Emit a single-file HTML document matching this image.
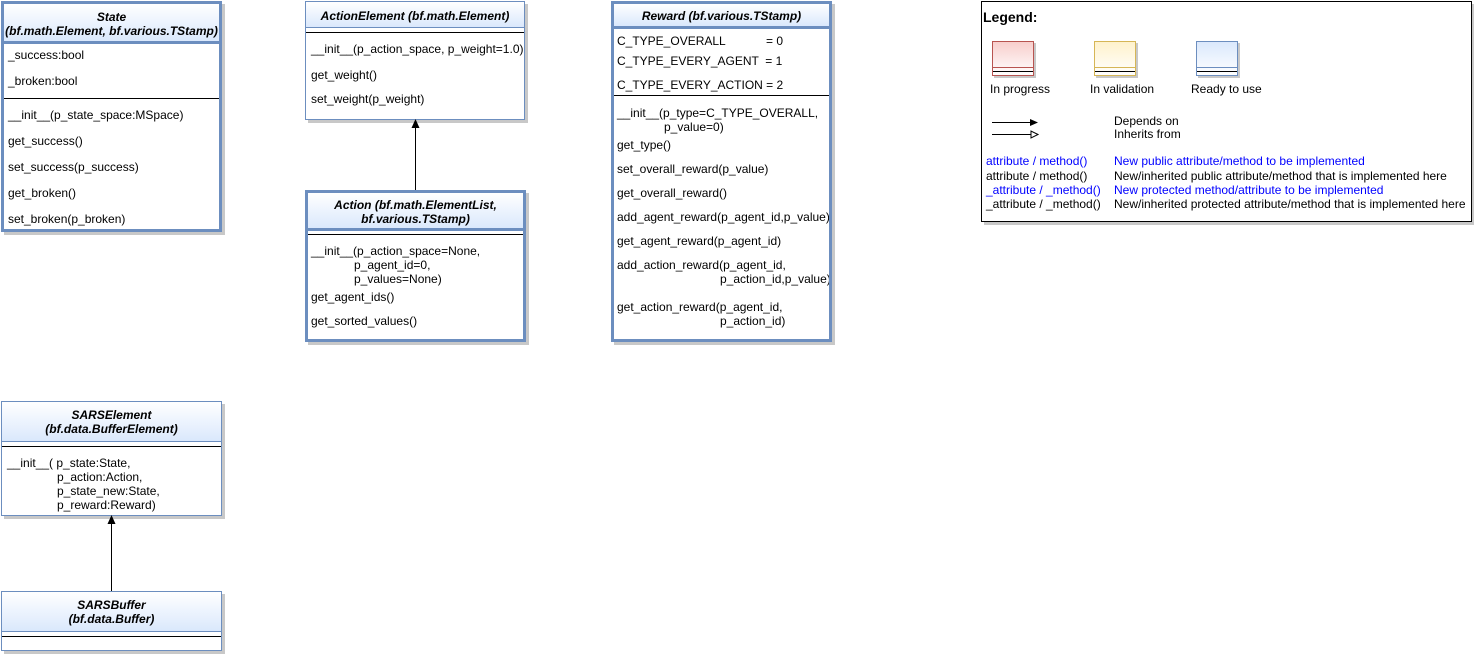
<!DOCTYPE html>
<html><head><meta charset="utf-8"><style>
*{margin:0;padding:0;box-sizing:border-box}
body{width:1474px;height:654px;background:#fff;position:relative;overflow:hidden;font-family:"Liberation Sans",sans-serif;font-size:12px;color:#000}
.b{position:absolute;background:#fff;overflow:hidden;box-shadow:3px 3px 0 #c8c8c8}
.thin{border:1px solid #6c8ebf}
.thick{border:3px solid #6c8ebf}
.h{position:absolute;left:0;right:0;top:0;background:linear-gradient(#fff,#dae8fc);border-bottom:1px solid #6c8ebf}
.thick .h{border-bottom:3px solid #6c8ebf}
.ln{position:absolute;left:0;right:0;height:1px;background:#000}
.t{position:absolute;white-space:pre;line-height:14px}
.c{left:0;right:0;text-align:center;font-weight:bold;font-style:italic}
.bl{color:#0000ff}
</style></head><body>

<!-- State -->
<div class="b thick" style="left:1px;top:1px;width:221px;height:231px">
<div class="h" style="height:40px"></div>
<div class="t c" style="top:6px">State</div>
<div class="t c" style="top:20px">(bf.math.Element, bf.various.TStamp)</div>
<div class="t" style="left:4px;top:44px">_success:bool</div>
<div class="t" style="left:4px;top:70px">_broken:bool</div>
<div class="ln" style="top:94px"></div>
<div class="t" style="left:4px;top:104px">__init__(p_state_space:MSpace)</div>
<div class="t" style="left:4px;top:130px">get_success()</div>
<div class="t" style="left:4px;top:156px">set_success(p_success)</div>
<div class="t" style="left:4px;top:182px">get_broken()</div>
<div class="t" style="left:4px;top:208px">set_broken(p_broken)</div>
</div>

<!-- ActionElement -->
<div class="b thin" style="left:305px;top:1px;width:220px;height:119px">
<div class="h" style="height:26px"></div>
<div class="t c" style="top:7px">ActionElement (bf.math.Element)</div>
<div class="ln" style="top:30px"></div>
<div class="t" style="left:5px;top:40px">__init__(p_action_space, p_weight=1.0)</div>
<div class="t" style="left:5px;top:66px">get_weight()</div>
<div class="t" style="left:5px;top:90px">set_weight(p_weight)</div>
</div>

<!-- Action -->
<div class="b thick" style="left:305px;top:190px;width:221px;height:152px">
<div class="h" style="height:38px"></div>
<div class="t c" style="top:5px">Action (bf.math.ElementList,</div>
<div class="t c" style="top:19px">bf.various.TStamp)</div>
<div class="ln" style="top:41px"></div>
<div class="t" style="left:3px;top:51px">__init__(p_action_space=None,</div>
<div class="t" style="left:46px;top:65px">p_agent_id=0,</div>
<div class="t" style="left:46px;top:79px">p_values=None)</div>
<div class="t" style="left:3px;top:97px">get_agent_ids()</div>
<div class="t" style="left:3px;top:121px">get_sorted_values()</div>
</div>

<!-- Reward -->
<div class="b thick" style="left:611px;top:1px;width:221px;height:341px">
<div class="h" style="height:25px"></div>
<div class="t c" style="top:5px">Reward (bf.various.TStamp)</div>
<div class="t" style="left:3px;top:30px">C_TYPE_OVERALL</div><div class="t" style="left:152px;top:30px">= 0</div>
<div class="t" style="left:3px;top:50px">C_TYPE_EVERY_AGENT  = 1</div>
<div class="t" style="left:3px;top:74px">C_TYPE_EVERY_ACTION = 2</div>
<div class="ln" style="top:91px"></div>
<div class="t" style="left:3px;top:102px">__init__(p_type=C_TYPE_OVERALL,</div>
<div class="t" style="left:50px;top:116px">p_value=0)</div>
<div class="t" style="left:3px;top:134px">get_type()</div>
<div class="t" style="left:3px;top:158px">set_overall_reward(p_value)</div>
<div class="t" style="left:3px;top:182px">get_overall_reward()</div>
<div class="t" style="left:3px;top:206px">add_agent_reward(p_agent_id,p_value)</div>
<div class="t" style="left:3px;top:230px">get_agent_reward(p_agent_id)</div>
<div class="t" style="left:3px;top:254px">add_action_reward(p_agent_id,</div>
<div class="t" style="left:106px;top:268px">p_action_id,p_value)</div>
<div class="t" style="left:3px;top:296px">get_action_reward(p_agent_id,</div>
<div class="t" style="left:106px;top:310px">p_action_id)</div>
</div>

<!-- SARSElement -->
<div class="b thin" style="left:1px;top:401px;width:221px;height:115px">
<div class="h" style="height:40px"></div>
<div class="t c" style="top:6px">SARSElement</div>
<div class="t c" style="top:20px">(bf.data.BufferElement)</div>
<div class="ln" style="top:44px"></div>
<div class="t" style="left:5px;top:54px">__init__( p_state:State,</div>
<div class="t" style="left:55px;top:68px">p_action:Action,</div>
<div class="t" style="left:55px;top:82px">p_state_new:State,</div>
<div class="t" style="left:55px;top:96px">p_reward:Reward)</div>
</div>

<!-- SARSBuffer -->
<div class="b thin" style="left:1px;top:591px;width:221px;height:60px">
<div class="h" style="height:40px"></div>
<div class="t c" style="top:6px">SARSBuffer</div>
<div class="t c" style="top:20px">(bf.data.Buffer)</div>
<div class="ln" style="top:44px"></div>
</div>

<!-- connectors -->
<svg style="position:absolute;left:0;top:0" width="1474" height="654">
<line x1="415.5" y1="190" x2="415.5" y2="127" stroke="#000" stroke-width="1"/>
<polygon points="415.5,119 411.5,128 419.5,128" fill="#000"/>
<line x1="111.5" y1="591" x2="111.5" y2="523" stroke="#000" stroke-width="1"/>
<polygon points="111.5,515 107.5,524 115.5,524" fill="#000"/>
</svg>

<!-- Legend -->
<div class="b" style="left:981px;top:1px;width:491px;height:221px;border:1px solid #000;overflow:visible">
<div class="t" style="left:1px;top:7px;font-size:14px;font-weight:bold;line-height:16px">Legend:</div>
<div style="position:absolute;left:10px;top:39px;width:42px;height:35px;border:1px solid #b85450;background:linear-gradient(#f8cecc,#fff);box-shadow:2px 2px 0 #c8c8c8">
 <div style="position:absolute;left:0;right:0;top:25px;height:1px;background:#b85450"></div>
 <div style="position:absolute;left:0;right:0;top:29px;height:1px;background:#000"></div></div>
<div style="position:absolute;left:112px;top:39px;width:42px;height:35px;border:1px solid #d6b656;background:linear-gradient(#fff2cc,#fff);box-shadow:2px 2px 0 #c8c8c8">
 <div style="position:absolute;left:0;right:0;top:25px;height:1px;background:#d6b656"></div>
 <div style="position:absolute;left:0;right:0;top:29px;height:1px;background:#000"></div></div>
<div style="position:absolute;left:214px;top:39px;width:42px;height:35px;border:1px solid #6c8ebf;background:linear-gradient(#dae8fc,#fff);box-shadow:2px 2px 0 #c8c8c8">
 <div style="position:absolute;left:0;right:0;top:25px;height:1px;background:#6c8ebf"></div>
 <div style="position:absolute;left:0;right:0;top:29px;height:1px;background:#000"></div></div>
<div class="t" style="left:8px;top:80px">In progress</div>
<div class="t" style="left:108px;top:80px">In validation</div>
<div class="t" style="left:209px;top:80px">Ready to use</div>
<svg style="position:absolute;left:0;top:0" width="80" height="150">
<line x1="10" y1="120.5" x2="50" y2="120.5" stroke="#000"/>
<polygon points="56,120.5 48,117 48,124" fill="#000"/>
<line x1="10" y1="132.5" x2="49" y2="132.5" stroke="#000"/>
<polygon points="56,132.5 49,129 49,136" fill="#fff" stroke="#000"/>
</svg>
<div class="t" style="left:132px;top:112px">Depends on</div>
<div class="t" style="left:132px;top:125px">Inherits from</div>
<div class="t bl" style="left:4px;top:152px">attribute / method()</div>
<div class="t" style="left:4px;top:167px">attribute / method()</div>
<div class="t bl" style="left:4px;top:181px">_attribute / _method()</div>
<div class="t" style="left:4px;top:195px">_attribute / _method()</div>
<div class="t bl" style="left:132px;top:152px">New public attribute/method to be implemented</div>
<div class="t" style="left:132px;top:167px">New/inherited public attribute/method that is implemented here</div>
<div class="t bl" style="left:132px;top:181px">New protected method/attribute to be implemented</div>
<div class="t" style="left:132px;top:195px">New/inherited protected attribute/method that is implemented here</div>
</div>

</body></html>
